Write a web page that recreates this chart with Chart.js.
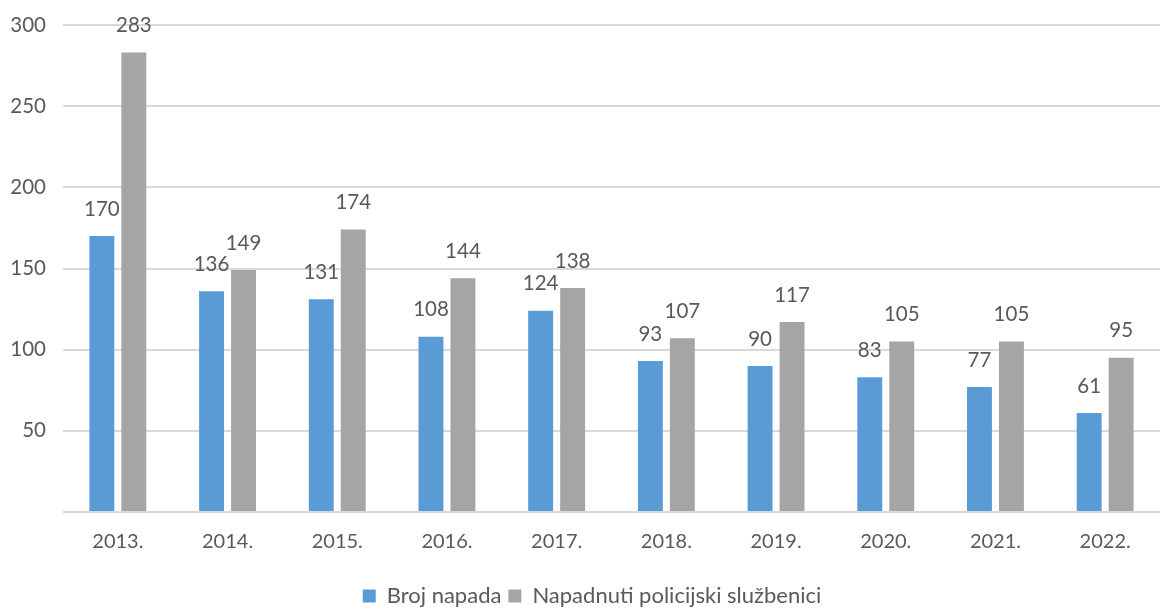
<!DOCTYPE html>
<html>
<head>
<meta charset="utf-8">
<script src="https://cdn.jsdelivr.net/npm/chart.js@4/dist/chart.umd.min.js"></script>
<style>
    html, body { margin: 0; padding: 0; background: #fff; }
    #wrap { width: 1160px; height: 609px; }
</style>
</head>
<body>
<div id="wrap"><canvas id="attacksChart"></canvas></div>
<script>
const years = ['2013.', '2014.', '2015.', '2016.', '2017.', '2018.', '2019.', '2020.', '2021.', '2022.'];
const attacks = [170, 136, 131, 108, 124, 93, 90, 83, 77, 61];
const officers = [283, 149, 174, 144, 138, 107, 117, 105, 105, 95];
const yTicks = [0, 50, 100, 150, 200, 250, 300];

const textColor = '#595959';
const fontFamily = 'Lato, "Open Sans", sans-serif';

// numbers above each bar
const barValues = {
    id: 'barValues',
    afterDatasetsDraw(chart) {
        const ctx = chart.ctx;
        ctx.save();
        ctx.font = '20.5px ' + fontFamily;
        ctx.fillStyle = textColor;
        ctx.textAlign = 'center';
        ctx.textBaseline = 'middle';
        chart.data.datasets.forEach((ds, i) => {
            chart.getDatasetMeta(i).data.forEach((bar, j) => {
                ctx.fillText(ds.data[j], bar.x, bar.y - 27);
            });
        });
        ctx.restore();
    }
};

// nudge the legend a bit to the right of centre
const legendShift = {
    id: 'legendShift',
    afterLayout(chart) {
        if (chart.legend) {
            chart.legend.left += 12;
            chart.legend.right += 12;
        }
    }
};

const ctx = document.getElementById('attacksChart').getContext('2d');
new Chart(ctx, {
    type: 'bar',
    data: {
        labels: years,
        datasets: [{
            label: 'Broj napada',
            data: attacks,
            backgroundColor: '#5B9BD5',
            categoryPercentage: 0.583,
            barPercentage: 0.78
        }, {
            label: 'Napadnuti policijski službenici',
            data: officers,
            backgroundColor: '#A5A5A5',
            categoryPercentage: 0.583,
            barPercentage: 0.78
        }]
    },
    options: {
        responsive: true,
        maintainAspectRatio: false,
        animation: false,
        layout: { padding: { top: 25, right: 0, bottom: -8, left: 0 } },
        plugins: {
            legend: {
                position: 'bottom',
                labels: {
                    boxWidth: 13,
                    boxHeight: 13,
                    padding: 7,
                    color: textColor,
                    font: { family: fontFamily, size: 22 }
                }
            },
            tooltip: { enabled: false }
        },
        scales: {
            x: {
                grid: { display: false },
                border: { display: false },
                ticks: {
                    color: textColor,
                    padding: 10,
                    font: { family: fontFamily, size: 20 }
                },
                afterFit: (scale) => { scale.height = 66; }
            },
            y: {
                min: 0,
                max: 300,
                afterBuildTicks: (scale) => { scale.ticks = yTicks.map(v => ({ value: v })); },
                grid: { color: '#d9d9d9', lineWidth: 2, drawTicks: false },
                border: { display: false },
                ticks: {
                    color: textColor,
                    padding: 17,
                    font: { family: fontFamily, size: 20.5 },
                    callback: (v) => v === 0 ? '' : v
                },
                afterFit: (scale) => {
                    scale.width = 63;
                    scale.paddingTop = 0;
                    scale.paddingBottom = 0;
                }
            }
        }
    },
    plugins: [barValues, legendShift]
});
</script>
</body>
</html>
